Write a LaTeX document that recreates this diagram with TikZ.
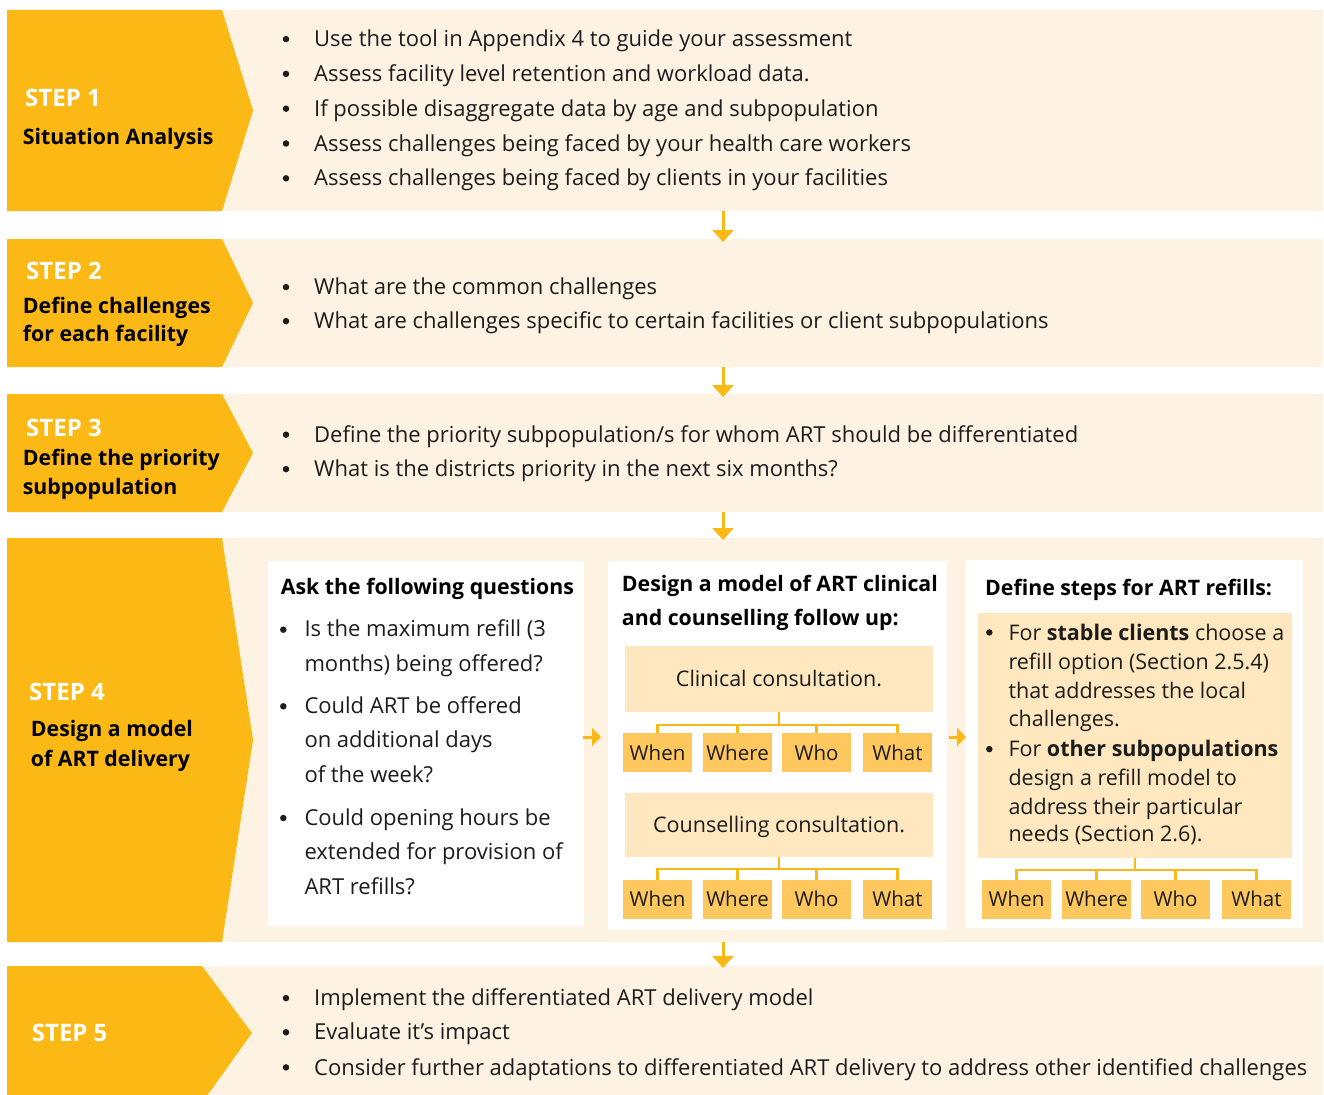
\documentclass[tikz,border=0pt]{standalone}
\usepackage{fontspec}
\setmainfont{Open Sans}
\usetikzlibrary{arrows.meta,calc}
\definecolor{orng}{RGB}{252,184,21}
\definecolor{cream}{RGB}{254,243,227}
\definecolor{lightbox}{RGB}{255,232,191}
\definecolor{qbox}{RGB}{255,200,95}
\definecolor{txt}{RGB}{28,28,28}
\begin{document}
\begin{tikzpicture}[x=1pt,y=-1pt,
  rowbg/.style={fill=cream,draw=none,inner sep=0pt,outer sep=0pt},
  panel/.style={fill=white,draw=none,inner sep=0pt,outer sep=0pt},
  consult/.style={fill=lightbox,draw=none,inner sep=0pt,outer sep=0pt,minimum width=308pt,text height=15.5pt,text depth=0pt,font=\fontsize{21.5}{26}\selectfont,text=txt},
  qb/.style={fill=qbox,draw=none,inner sep=0pt,outer sep=0pt,minimum width=69pt,minimum height=39pt,text height=15pt,text depth=0pt,font=\fontsize{20.5}{26}\selectfont,text=txt},
  body/.style={anchor=base west,inner sep=0pt,font=\fontsize{22}{26}\selectfont,text=txt},
  cbody/.style={anchor=base west,inner sep=0pt,font=\fontsize{21.5}{26}\selectfont,text=txt},
  bul/.style={circle,fill=txt,draw=none,inner sep=0pt,minimum size=6.5pt},
  steplbl/.style={anchor=base west,inner sep=0pt,font=\fontsize{24}{28}\bfseries\selectfont,text=white},
  subl/.style={anchor=base west,inner sep=0pt,font=\fontsize{21.3}{26}\bfseries\selectfont,text=black},
  ptitle/.style={anchor=base west,inner sep=0pt,font=\fontsize{21.3}{26}\bfseries\selectfont,text=black},
  darr/.style={orng,line width=3pt,-{Triangle[width=21pt,length=12pt]}},
  rarr/.style={orng,line width=3pt,-{Triangle[width=18pt,length=9pt]}},
  tree/.style={orng,line width=2.6pt}
]
\useasboundingbox (0,0) rectangle (1324,1094);
\clip (0,0) rectangle (1324,1094);

% row backgrounds
\node[rowbg,minimum width=1316pt,minimum height=201pt] (r1) at (665,110.5) {};
\node[rowbg,minimum width=1316pt,minimum height=128pt] (r2) at (665,303) {};
\node[rowbg,minimum width=1316pt,minimum height=118pt] (r3) at (665,453) {};
\node[rowbg,minimum width=1316pt,minimum height=404pt] (r4) at (665,740) {};
\node[rowbg,minimum width=1316pt,minimum height=135pt] (r5) at (665,1033.5) {};

% chevrons
\fill[orng] (7,10) -- (222,10) -- (253,110.5) -- (222,211) -- (7,211) -- cycle;
\fill[orng] (7,239) -- (222,239) -- (253,303) -- (222,367) -- (7,367) -- cycle;
\fill[orng] (7,394) -- (222,394) -- (253,453) -- (222,512) -- (7,512) -- cycle;
\fill[orng] (7,538) -- (222,538) -- (253,740) -- (222,942) -- (7,942) -- cycle;
\fill[orng] (7,966) -- (202,966) -- (252,1033) -- (204,1100) -- (7,1100) -- cycle;

% step labels
\node[steplbl] (s1) at (25,106.7) {STEP 1};
\node[subl] (s1a) at (22.7,144.3) {Situation Analysis};
\node[steplbl] (s2) at (26,279) {STEP 2};
\node[subl] (s2a) at (22.7,313.3) {Define challenges};
\node[subl] (s2b) at (22.7,341.7) {for each facility};
\node[steplbl] (s3) at (26,436.7) {STEP 3};
\node[subl] (s3a) at (22.7,465) {Define the priority};
\node[subl] (s3b) at (22.7,494) {subpopulation};
\node[steplbl] (s4) at (29,700.7) {STEP 4};
\node[subl] (s4a) at (30.7,736.7) {Design a model};
\node[subl] (s4b) at (30.7,766) {of ART delivery};
\node[steplbl] (s5) at (31.7,1041) {STEP 5};

% row bullet texts
\foreach \y/\t [count=\i] in {
  46.7/{Use the tool in Appendix 4 to guide your assessment},
  81.5/{Assess facility level retention and workload data.},
  116.3/{If possible disaggregate data by age and subpopulation},
  151.1/{Assess challenges being faced by your health care workers},
  185.9/{Assess challenges being faced by clients in your facilities}}{
  \node[bul] (r1b\i) at (286,\y-7.6) {};
  \node[body] (r1t\i) at (314,\y) {\t};
}
\foreach \y/\t [count=\i] in {
  294.7/{What are the common challenges},
  328.7/{What are challenges specific to certain facilities or client subpopulations}}{
  \node[bul] (r2b\i) at (286,\y-7.6) {};
  \node[body] (r2t\i) at (314,\y) {\t};
}
\foreach \y/\t [count=\i] in {
  442.3/{Define the priority subpopulation/s for whom ART should be differentiated},
  476.7/{What is the districts priority in the next six months?}}{
  \node[bul] (r3b\i) at (286,\y-7.6) {};
  \node[body] (r3t\i) at (314,\y) {\t};
}
\foreach \y/\t [count=\i] in {
  1005.7/{Implement the differentiated ART delivery model},
  1039.9/{Evaluate it’s impact},
  1075/{Consider further adaptations to differentiated ART delivery to address other identified challenges}}{
  \node[bul] (r5b\i) at (286,\y-7.6) {};
  \node[body] (r5t\i) at (314,\y) {\t};
}

% step 4 panels
\node[panel,minimum width=316pt,minimum height=365pt] (pA) at (426,743.5) {};
\node[panel,minimum width=339pt,minimum height=369pt] (pB) at (777.5,745.5) {};
\node[panel,minimum width=338pt,minimum height=368pt] (pC) at (1134,744) {};

% panel A
\node[ptitle] (pAt) at (280.7,594.3) {Ask the following questions};
\foreach \y/\t [count=\i] in {
  636.7/{Is the maximum refill (3},
  671.7/{months) being offered?},
  713.3/{Could ART be offered},
  747.7/{on additional days},
  782.7/{of the week?},
  825/{Could opening hours be},
  859.3/{extended for provision of},
  894.3/{ART refills?}}{
  \node[body] (pAl\i) at (304.3,\y) {\t};
}
\node[bul] (pAb1) at (283.3,629.7) {};
\node[bul] (pAb2) at (283.3,706.3) {};
\node[bul] (pAb3) at (283.3,818) {};

% panel B
\node[ptitle] (pBt1) at (621.7,591) {Design a model of ART clinical};
\node[ptitle] (pBt2) at (621.7,625) {and counselling follow up:};
\node[consult,minimum height=66pt] (clin) at (779,679) {Clinical consultation.};
\node[consult,minimum height=64pt] (couns) at (779,825) {Counselling consultation.};
\foreach \x/\t [count=\i] in {657.5/When,737.5/Where,816.5/Who,897.5/What}{
  \node[qb] (ca\i) at (\x,752.5) {\t};
  \node[qb] (cb\i) at (\x,899) {\t};
  \draw[tree] (clin.south) -- ++(0,13) -| (ca\i.north);
  \draw[tree] (couns.south) -- ++(0,12) -| (cb\i.north);
}

% panel C
\node[ptitle] (pCt) at (985,595) {Define steps for ART refills:};
\node[fill=lightbox,draw=none,inner sep=0pt,outer sep=0pt,minimum width=314pt,minimum height=245pt] (refill) at (1135,735.5) {};
\foreach \y/\t [count=\i] in {
  640/{For \textbf{stable clients} choose a},
  669.5/{refill option (Section 2.5.4)},
  698.3/{that addresses the local},
  726.7/{challenges.},
  756.7/{For \textbf{other subpopulations}},
  785/{design a refill model to},
  814.3/{address their particular},
  841.7/{needs (Section 2.6).}}{
  \node[cbody] (pCl\i) at (1008.3,\y) {\t};
}
\node[bul] (pCb1) at (989.3,632.4) {};
\node[bul] (pCb2) at (989.3,749.1) {};
\foreach \x/\t [count=\i] in {1016.5/When,1096.5/Where,1175.5/Who,1256.5/What}{
  \node[qb] (cc\i) at (\x,899) {\t};
  \draw[tree] (refill.south) -- ++(0,12) -| (cc\i.north);
}

% arrows
\coordinate (ax) at (723,0);
\draw[darr] (ax |- r1.south) -- ([yshift=-3pt]ax |- r2.north);
\draw[darr] (ax |- r2.south) -- ([yshift=-3pt]ax |- r3.north);
\draw[darr] (ax |- r3.south) -- ([yshift=-2pt]ax |- r4.north);
\draw[darr] (ax |- r4.south) -- ([yshift=-2pt]ax |- r5.north);
\coordinate (ay) at (0,737);
\draw[rarr] ([xshift=-1pt]pA.east |- ay) -- ([xshift=-7pt]pB.west |- ay);
\draw[rarr] ([xshift=2pt]pB.east |- ay) -- ([xshift=1pt]pC.west |- ay);
\end{tikzpicture}
\end{document}
